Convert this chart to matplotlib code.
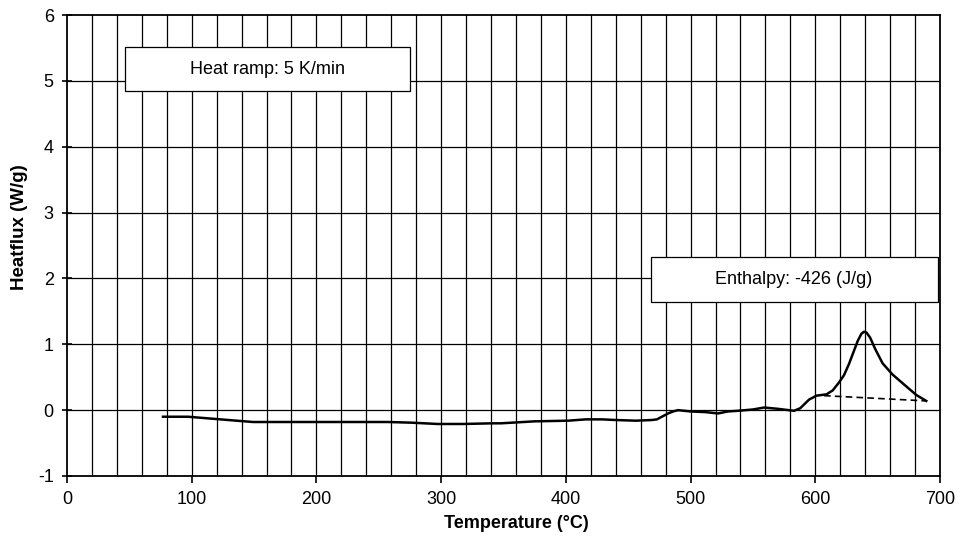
import numpy as np
import matplotlib
matplotlib.use("Agg")
import matplotlib.pyplot as plt
from matplotlib.patches import Rectangle

plt.rcParams['font.family'] = ['Liberation Sans', 'DejaVu Sans']
plt.rcParams['axes.unicode_minus'] = False

# ---------- Data ----------
temperature = [77, 97, 110, 136, 149, 200, 257, 276, 297, 318, 341, 348, 375,
               402, 416, 429, 440, 456, 469, 473, 477, 482, 486, 490, 500,
               512, 522, 530, 538, 550, 559, 570, 583, 588, 595, 601, 609,
               614, 619, 623, 627, 631, 634, 637, 639, 641, 644, 648, 654,
               662, 673, 681, 689]
heatflux = [-0.10, -0.10, -0.12, -0.16, -0.18, -0.18, -0.18, -0.19, -0.21,
            -0.21, -0.20, -0.20, -0.17, -0.16, -0.14, -0.14, -0.15, -0.16,
            -0.15, -0.14, -0.10, -0.05, -0.02, 0.00, -0.02, -0.03, -0.05,
            -0.02, -0.01, 0.01, 0.04, 0.02, -0.01, 0.03, 0.16, 0.22, 0.24,
            0.30, 0.42, 0.53, 0.70, 0.90, 1.05, 1.16, 1.19, 1.18, 1.10, 0.93,
            0.71, 0.54, 0.36, 0.23, 0.14]

baseline_t = [607, 689]
baseline_q = [0.22, 0.14]

x_ticks = [0, 100, 200, 300, 400, 500, 600, 700]
y_ticks = [-1, 0, 1, 2, 3, 4, 5, 6]

# ---------- Figure ----------
fig = plt.figure(figsize=(9.74, 5.44), dpi=100)
ax = fig.add_axes([67/974, 1 - 476/544, 873/974, 461/544])

ax.set_xlim(0, 700)
ax.set_ylim(-1, 6)

# grid: verticals every 20, horizontals every 1
for gx in np.arange(20, 700, 20):
    ax.axvline(gx, color='black', lw=0.9, zorder=1)
for gy in range(0, 6):
    ax.axhline(gy, color='black', lw=0.9, zorder=1)

ax.plot(temperature, heatflux, color='black', lw=1.8, zorder=3)
ax.plot(baseline_t, baseline_q, color='black', lw=1.2, ls=(0, (4, 2.5)), zorder=3)

# annotation boxes
ax.add_patch(Rectangle((46.5, 4.84), 228.5, 0.68, facecolor='white',
                       edgecolor='black', lw=0.9, zorder=4))
ax.text(160.5, 5.18, 'Heat ramp: 5 K/min', ha='center', va='center',
        fontsize=13, zorder=5)
ax.add_patch(Rectangle((468, 1.64), 230, 0.68, facecolor='white',
                       edgecolor='black', lw=0.9, zorder=4))
ax.text(583, 1.98, 'Enthalpy: -426 (J/g)', ha='center', va='center',
        fontsize=13, zorder=5)

ax.set_xticks(x_ticks)
ax.set_yticks(y_ticks)
ax.tick_params(labelsize=13)
ax.tick_params(axis='x', direction='out', length=5, width=1.2, pad=6)
ax.tick_params(axis='y', direction='inout', length=7, width=1.2, pad=6)
for s in ax.spines.values():
    s.set_linewidth(1.3)

ax.set_xlabel('Temperature (°C)', fontsize=13, fontweight='bold', labelpad=3)
ax.xaxis.set_label_coords(0.515, -0.085)
ax.set_ylabel('Heatflux (W/g)', fontsize=13.5, fontweight='bold')
ax.yaxis.set_label_coords(-0.045, 0.54)

fig.savefig('out.png', dpi=100)
